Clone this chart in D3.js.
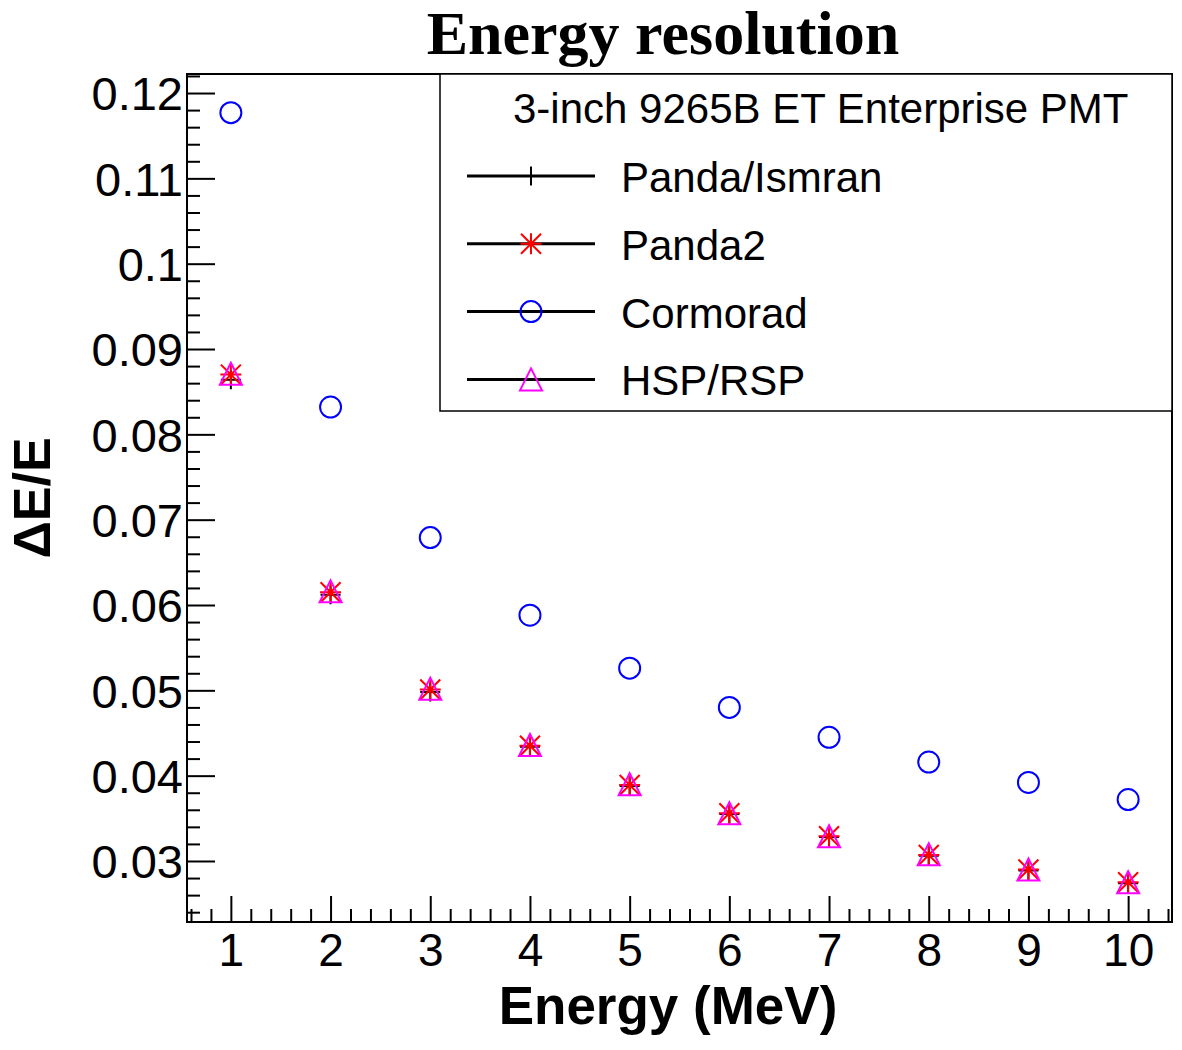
<!DOCTYPE html>
<html>
<head>
<meta charset="utf-8">
<script src="https://cdn.jsdelivr.net/npm/d3@7"></script>
<style>
  body { margin: 0; background: white; }
  svg { display: block; }
</style>
</head>
<body>
<div id="container"></div>
<script>
// values
var energy = [1, 2, 3, 4, 5, 6, 7, 8, 9, 10];
var pandaIsmran = [0.0864, 0.0612, 0.0498, 0.0434, 0.0388, 0.0355, 0.0328, 0.0306, 0.0289, 0.0274];
var panda2 = [0.0870, 0.0615, 0.0501, 0.0435, 0.0389, 0.0356, 0.0329, 0.0307, 0.0290, 0.0275];
var cormorad = [0.1177, 0.0832, 0.0679, 0.0588, 0.0526, 0.0480, 0.0445, 0.0416, 0.0392, 0.0372];
var hspRsp = [0.0871, 0.0616, 0.0502, 0.0436, 0.0390, 0.0356, 0.0329, 0.0308, 0.0290, 0.0275];

var seriesNames = ['Panda/Ismran', 'Panda2', 'Cormorad', 'HSP/RSP'];
var legendHeader = '3-inch 9265B ET Enterprise PMT';
var xTicks = [1, 2, 3, 4, 5, 6, 7, 8, 9, 10];
var yTicks = [0.03, 0.04, 0.05, 0.06, 0.07, 0.08, 0.09, 0.1, 0.11, 0.12];
var yTickLabels = ['0.03', '0.04', '0.05', '0.06', '0.07', '0.08', '0.09', '0.1', '0.11', '0.12'];

var svgWidth = 1182,
    svgHeight = 1050,
    svg = d3.select('#container').append('svg').attr('width', svgWidth).attr('height', svgHeight).style('background-color', 'white'),
    frame = { left: 187, right: 1172, top: 74, bottom: 922 };

var x = d3.scaleLinear().domain([0.56, 10.44]).range([frame.left, frame.right]);
var y = d3.scaleLinear().domain([0.02285, 0.12223]).range([frame.bottom, frame.top]);

var sans = "'Liberation Sans', Arial, Helvetica, sans-serif";

// minor ticks
var xMinor = d3.range(0.6, 10.45, 0.2).filter(function(v) { return Math.abs(v - Math.round(v)) > 0.01; });
var yMinor = d3.range(0.024, 0.1222, 0.002).filter(function(v) { return Math.abs(v * 100 - Math.round(v * 100)) > 0.01; });

svg.append('g')
    .attr('transform', 'translate(0,' + frame.bottom + ')')
    .call(d3.axisBottom(x).tickValues(xMinor).tickSize(-13).tickFormat(''))
    .call(function(g) { g.select('.domain').remove(); g.selectAll('line').attr('stroke-width', 2); });

svg.append('g')
    .attr('transform', 'translate(' + frame.left + ',0)')
    .call(d3.axisLeft(y).tickValues(yMinor).tickSize(-13).tickFormat(''))
    .call(function(g) { g.select('.domain').remove(); g.selectAll('line').attr('stroke-width', 2); });

var xAxis = svg.append('g')
    .attr('transform', 'translate(0,' + frame.bottom + ')')
    .call(d3.axisBottom(x).tickValues(xTicks).tickSize(-26).tickPadding(44).tickFormat(d3.format('d')));
xAxis.select('.domain').remove();
xAxis.selectAll('line').attr('stroke-width', 2);
xAxis.selectAll('text').attr('font-family', sans).attr('font-size', 46).attr('fill', 'black').attr('dy', 0);

var yAxis = svg.append('g')
    .attr('transform', 'translate(' + frame.left + ',0)')
    .call(d3.axisLeft(y).tickValues(yTicks).tickSize(-28).tickPadding(4)
      .tickFormat(function(d, i) { return yTickLabels[i]; }));
yAxis.select('.domain').remove();
yAxis.selectAll('line').attr('stroke-width', 2);
yAxis.selectAll('text').attr('font-family', sans).attr('font-size', 47).attr('fill', 'black').attr('dy', '0.36em');

// frame
svg.append('rect')
    .attr('x', frame.left).attr('y', frame.top)
    .attr('width', frame.right - frame.left).attr('height', frame.bottom - frame.top)
    .attr('fill', 'none').attr('stroke', 'black').attr('stroke-width', 2);

// marker shapes
function drawCross(g, cx, cy) {
  g.append('path').attr('d', 'M' + (cx - 10) + ',' + cy + 'H' + (cx + 10) + 'M' + cx + ',' + (cy - 9.5) + 'V' + (cy + 9.5))
    .attr('stroke', 'black').attr('stroke-width', 2).attr('fill', 'none');
}
function drawStar(g, cx, cy) {
  g.append('path').attr('d', 'M' + (cx - 10.5) + ',' + cy + 'H' + (cx + 10.5) + 'M' + cx + ',' + (cy - 10.5) + 'V' + (cy + 10.5) +
      'M' + (cx - 10) + ',' + (cy - 10) + 'L' + (cx + 10) + ',' + (cy + 10) + 'M' + (cx - 10) + ',' + (cy + 10) + 'L' + (cx + 10) + ',' + (cy - 10))
    .attr('stroke', 'red').attr('stroke-width', 2).attr('fill', 'none');
  g.append('circle').attr('cx', cx).attr('cy', cy).attr('r', 2.5).attr('fill', 'red');
}
function drawCircle(g, cx, cy) {
  g.append('circle').attr('cx', cx).attr('cy', cy).attr('r', 10.5)
    .attr('stroke', 'blue').attr('stroke-width', 2).attr('fill', 'none');
}
function drawTriangle(g, cx, cy) {
  g.append('path').attr('d', 'M' + cx + ',' + (cy - 11) + 'L' + (cx + 11) + ',' + (cy + 11) + 'L' + (cx - 11) + ',' + (cy + 11) + 'Z')
    .attr('stroke', 'magenta').attr('stroke-width', 2).attr('fill', 'none');
}

var series = [
  { name: seriesNames[0], values: pandaIsmran, draw: drawCross },
  { name: seriesNames[1], values: panda2, draw: drawStar },
  { name: seriesNames[2], values: cormorad, draw: drawCircle },
  { name: seriesNames[3], values: hspRsp, draw: drawTriangle }
];

var marks = svg.append('g');
series.forEach(function(s) {
  var g = marks.append('g');
  s.values.forEach(function(v, i) { s.draw(g, x(energy[i]), y(v)); });
});

// legend
var legend = svg.append('g');
legend.append('rect')
    .attr('x', 440).attr('y', frame.top).attr('width', frame.right - 440).attr('height', 411 - frame.top)
    .attr('fill', 'white').attr('stroke', 'black').attr('stroke-width', 1.5);
legend.append('text')
    .attr('x', 513).attr('y', 123)
    .attr('font-family', sans).attr('font-size', 42).text(legendHeader);
series.forEach(function(s, i) {
  var ly = 176 + i * 67.8;
  legend.append('line').attr('x1', 467).attr('x2', 595).attr('y1', ly).attr('y2', ly)
    .attr('stroke', 'black').attr('stroke-width', 3);
  s.draw(legend, 531, ly);
  legend.append('text').attr('x', 621).attr('y', ly + 16)
    .attr('font-family', sans).attr('font-size', 42).text(s.name);
});

// titles
svg.append('text')
    .attr('x', 663).attr('y', 54)
    .attr('text-anchor', 'middle')
    .attr('font-family', "'Liberation Serif', 'Times New Roman', serif").attr('font-weight', 'bold').attr('font-size', 62)
    .text('Energy resolution');

svg.append('text')
    .attr('x', 668).attr('y', 1024)
    .attr('text-anchor', 'middle')
    .attr('font-family', sans).attr('font-weight', 'bold').attr('font-size', 53)
    .text('Energy (MeV)');

svg.append('text')
    .attr('transform', 'translate(50,498) rotate(-90)')
    .attr('text-anchor', 'middle')
    .attr('font-family', sans).attr('font-weight', 'bold').attr('font-size', 52)
    .text('ΔE/E');
</script>
</body>
</html>
